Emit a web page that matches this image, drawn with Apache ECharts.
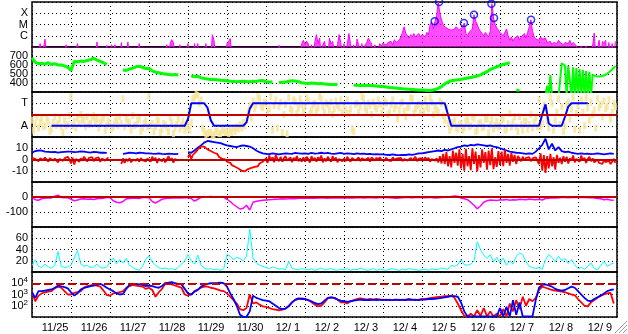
<!DOCTYPE html>
<html><head><meta charset="utf-8">
<script src="https://cdn.jsdelivr.net/npm/echarts@6/dist/echarts.min.js"></script>
<style>html,body{margin:0;padding:0;background:#fff}#c{width:628px;height:334px}</style>
</head><body><div id="c"></div>
<script>
// ---- tick labels ----
const dayLabels = ['11/25','11/26','11/27','11/28','11/29','11/30','12/ 1','12/ 2','12/ 3','12/ 4','12/ 5','12/ 6','12/ 7','12/ 8','12/ 9'];
const xrayClassLabels = {1:'C', 2:'M', 3:'X'};
const sectorLabels = {1:'A', 3:'T'};

// ---- X-ray flux, log10(W/m2)+7, hourly (below 0 = under axis) ----
const xray = [
-1,-1,-1,-1,-1,0.3,-1,-1,0.7,-1,-1,-1,-1,-1,-1,-1,-1,-1,-1,-1,-1,0.2,-1,-1,
-1,-1,-1,-1,0.3,-1,-1,-1,-1,-1,-1,-1,-1,-1,-1,-1,0.45,-1,-1,-1,-1,-1,0.15,-1,
-1,0.2,-1,0.2,-1,-1,-1,0.4,-1,-1,-1,0.45,-1,-1,-1,-1,-1,-1,0.3,-1,-1,-1,-1,-1,
-1,-1,-1,-1,-1,-1,-1,-1,-1,-1,-1,0.2,-1,0.3,0.65,0.4,-1,-1,-1,0.2,-1,-1,-1,-1,
0.3,-1,-1,-1,0.3,-1,0.3,-1,-1,-1,-1,0.3,-1,-1,-1,1.1,0.6,-1,-1,-1,-1,-1,-1,-1,
0.3,0.5,0.75,-1,-1,-1,-1,-1,-1,-1,-1,-1,-1,-1,-1,-1,-1,-1,-1,-1,-1,-1,-1,-1,
-1,-1,-1,-1,-1,-1,-1,-1,0.15,-1,-1,-1,-1,-1,-1,-1,-1,-1,-1,-1,-1,-1,0.3,0.6,
0.2,0.5,0.3,-1,0.2,-1,0.4,1.1,0.3,0.8,-1,0.2,0.5,0.5,-1,0.8,0.3,0.5,0.6,-1,0.2,1.1,0.4,-1,
0.3,-1,0.2,1.2,0.3,-1,0.2,-1,0.7,0.2,-1,0.3,-1,0.2,0.4,0.8,0.5,0.3,-1,0.2,-1,-1,0.3,0.1,
0.35,0.2,0.15,0.4,0.3,0.5,0.2,0.65,0.4,0.3,0.6,0.9,1.3,1.8,1.2,1.0,0.8,1.1,0.9,1.2,0.9,0.8,1.2,0.9,
1.1,1.2,0.9,1.3,1.1,2.0,2.2,1.6,2.28,2.8,4.0,3.0,2.4,2.0,1.8,1.7,1.6,1.5,1.5,1.4,1.6,1.8,1.7,1.5,
1.6,1.8,2.13,1.2,1.0,1.3,1.4,1.6,2.87,2.3,2.0,1.6,1.4,1.2,1.0,1.3,1.1,0.9,1.4,3.85,2.58,2.0,1.7,1.5,
1.3,1.2,1.0,0.9,1.6,1.0,0.6,0.9,0.5,0.8,0.7,1.0,0.6,0.9,1.0,1.2,0.8,1.3,1.8,2.43,1.4,0.9,0.7,0.8,
0.6,0.9,0.7,0.6,0.8,0.4,0.3,0.5,0.2,0.4,0.5,0.3,0.6,0.4,0.3,0.2,0.4,0.5,0.3,0.6,0.2,0.4,0.5,0.1,
-1,-1,0.1,-1,-1,0.1,-1,-1,-1,-1,1.25,-1,-1,0.6,-1,0.5,0.3,0.6,-1,0.4,-1,0.3,-1,0.5
];
const flareHours  = [247.8, 250.5, 265.8, 272.0, 282.7, 284.3, 307.1];
const flareLevels = [2.28, 4.0, 2.13, 2.87, 3.85, 2.58, 2.43];

// ---- solar wind speed km/s, 2-hourly to 12/7 ----
const speed = [
680,630,615,620,610,625,605,615,600,600,590,575,
540,640,635,645,640,650,660,675,655,640,625,605,
null,null,null,null,545,540,555,565,580,585,575,560,
560,535,520,515,505,500,495,490,495,490,null,null,
null,480,470,475,460,450,445,440,438,435,430,428,
425,420,418,415,418,420,416,414,420,418,425,428,
415,412,410,null,408,405,410,420,425,422,415,402,
398,395,400,396,392,394,390,386,383,384,382,null,
null,null,null,375,374,372,374,373,372,370,366,362,
360,355,350,348,345,340,335,332,330,328,326,322,
322,320,318,320,328,340,360,390,410,425,430,435,
440,448,455,460,470,478,490,510,525,550,565,580,
595,605,615,625,null,322,318,null,320,null,null,null
];
// hourly speed from 12/8 00h (hour 312) with dropouts
const speedLate = [
null,null,null,null,250,370,250,490,250,250,250,250,
250,250,620,600,595,250,590,585,250,575,250,565,
250,555,250,545,250,535,250,525,250,490,482,476,
472,472,474,478,484,492,505,520,535,550,570,590
];

// ---- sector (T/A): 1 = A, 3 = T; scatter samples and sector line, 2-hourly ----
const sectorA = [
1.5,1.2,0.8,1.6,1.0,1.4,0.7,1.8,1.2,0.9,1.5,1.1,
3.6,1.4,1.7,2.0,1.5,1.8,1.2,1.9,1.6,1.3,1.7,1.0,
1.2,0.9,1.5,1.8,3.4,1.6,1.3,1.9,1.1,1.6,0.8,1.4,
3.6,1.2,0.9,1.4,0.7,1.1,0.5,1.3,0.8,1.6,1.0,0.6,
1.0,1.3,3.5,3.7,3.3,0.5,0.3,0.4,0.2,0.5,0.3,0.6,
0.5,0.6,0.8,0.9,1.1,1.3,1.5,2.8,3.2,2.9,3.4,2.6,
3.0,2.5,0.6,3.3,2.7,0.4,2.9,3.5,2.4,3.1,2.6,2.9,
2.7,3.2,2.4,3.0,2.6,3.4,2.2,2.9,3.1,2.5,2.8,3.3,
2.9,3.3,2.5,0.5,3.0,2.7,3.4,2.3,2.8,3.1,2.5,2.9,
2.6,3.0,2.2,3.3,2.8,2.4,3.1,1.8,2.7,3.4,2.5,2.9,
2.9,3.3,2.5,3.1,2.7,2.2,3.0,1.5,1.2,0.9,1.4,0.7,
1.2,0.8,1.5,1.0,1.7,0.6,1.3,0.9,1.6,1.1,0.7,1.4,
1.0,1.6,0.7,2.1,1.3,0.9,1.8,0.6,1.4,1.1,0.8,1.7,
3.3,1.2,2.6,0.8,3.0,1.5,3.4,2.7,1.0,3.1,2.5,0.7,
2.8,3.3,1.0,2.6,3.1,2.4,3.4,2.9,3.2,2.7,1.6,3.0
];
const sectorB = [
0.6,1.8,1.3,0.9,1.7,0.5,1.3,1.0,1.6,0.4,1.0,1.9,
1.0,0.8,1.2,1.5,0.9,1.1,1.7,1.4,0.8,1.5,0.6,1.4,
0.7,1.4,1.0,1.2,0.9,1.3,0.6,1.0,1.5,0.5,1.2,0.9,
1.0,0.5,1.5,0.4,1.2,0.8,1.7,0.3,1.1,0.7,1.4,0.9,
0.6,3.4,3.8,3.0,0.8,0.2,0.4,0.1,0.5,0.3,0.6,0.4,
0.3,0.4,0.5,0.7,0.8,1.0,2.2,1.7,2.5,3.6,2.7,3.1,
2.2,3.6,2.8,0.8,3.1,2.0,0.3,2.5,3.3,2.1,3.4,2.3,
3.5,2.1,2.9,2.3,3.6,2.7,3.0,2.4,2.0,3.2,2.6,2.2,
2.4,2.1,0.7,2.9,2.2,3.6,2.6,3.0,2.0,2.7,3.3,2.1,
3.2,2.0,2.9,2.5,1.6,3.0,2.3,2.6,3.5,2.1,2.8,2.2,
2.3,2.7,3.5,2.0,2.4,3.2,1.9,2.6,0.6,1.3,0.8,1.1,
0.6,1.4,0.9,1.8,0.5,1.2,0.8,1.6,0.4,1.5,1.0,0.9,
1.5,0.6,1.2,0.9,1.8,0.5,1.1,1.4,0.7,2.0,1.3,0.9,
0.9,2.8,1.4,3.5,0.6,2.2,1.1,0.5,2.9,1.6,3.5,2.1,
0.6,2.2,3.5,1.5,2.0,0.8,2.6,1.8,2.5,3.3,2.2,2.7
];
const sectorLine = [
null,null,null,null,null,null,1,1,1,1,1,1,
1,1,1,1,1,1,1,1,1,1,1,1,
1,1,1,1,1,1,1,1,1,1,1,1,
1,1,1,1,1,1,1,1,1,1,1,1,
1.6,3,3,3,3,3,2.6,1.5,1,1,1,1,
1,1,1,1,1,1,1.3,2.5,3,3,3,3,
3,3,3,3,3,3,3,3,3,3,3,3,
3,3,3,3,3,3,3,3,3,3,3,3,
3,3,3,3,3,3,3,3,3,3,3,3,
3,3,3,3,3,3,3,3,3,3,3,3,
3,3,3,3,3,3,3,3,2.0,1,1,1,
1,1,1,1,1,1,1,1,1,1,1,1,
1,1,1,1,1,1,1,1,1,1,1,1,
1,2.0,2.9,1.2,1,1,1,1,1.8,2.7,3,3,
3,3,3,3,null,null,null,null,null,null,null,null
];

// ---- IMF Bt (2-hourly) and Bz (hourly), nT ----
const bt = [
6.0,7.5,8.0,7.8,7.0,6.8,6.5,6.8,6.2,6.5,6.8,7.0,
7.0,6.5,6.8,7.2,7.0,6.5,6.2,6.8,6.5,6.0,6.2,5.8,
null,null,null,null,5.0,5.5,6.0,5.8,5.5,6.0,5.8,5.5,
5.5,5.2,5.0,5.5,5.0,4.8,5.2,5.0,4.8,5.0,null,null,
6.5,6.0,8.0,10.5,12.5,15.0,16.5,16.0,15.5,15.0,14.5,13.5,
12.5,12.0,11.5,11.0,12.0,12.5,12.0,11.5,10.0,8.0,6.5,5.5,
5.0,4.8,5.5,5.0,4.5,5.0,5.5,5.2,5.0,5.8,5.5,5.2,
5.5,5.0,5.8,5.2,5.5,6.0,5.5,5.8,5.2,5.0,5.5,5.8,
5.0,5.5,5.2,4.8,5.5,5.0,5.2,4.8,5.0,4.5,4.8,4.5,
4.5,4.2,4.0,4.5,4.0,3.8,4.2,4.0,4.5,4.2,4.8,5.5,
5.5,6.0,6.5,7.0,7.5,8.0,7.5,8.5,8.0,9.0,10.0,11.0,
11.5,12.5,12.0,13.0,12.5,13.5,13.0,12.5,12.0,12.5,11.5,11.0,
10.0,9.0,8.0,7.0,6.5,6.0,5.8,5.5,5.0,5.5,5.0,7.0,
10.0,13.0,18.5,9.0,14.0,8.0,11.0,7.5,6.5,7.0,6.0,5.5,
5.0,5.5,5.0,5.2,4.8,5.0,5.5,5.0,4.5,5.0,5.5,5.0
];
const bz = [
1.5,3.0,0.5,2.0,-1.5,1.0,2.5,-0.5,1.8,0.2,-2.0,1.2,2.2,-1.0,0.8,1.5,-2.5,0.5,2.0,-1.2,1.0,-0.5,2.5,0.0,
-3.5,1.5,-4.5,0.5,2.0,-2.0,1.0,-1.0,2.5,0.5,-1.8,1.5,0.0,2.2,-1.5,1.0,-0.5,2.0,-2.2,0.8,1.5,-1.0,0.5,1.8,
null,null,null,null,null,null,null,-4.0,1.0,-3.0,0.5,-1.5,1.2,-2.5,0.0,1.5,-1.0,0.8,-2.0,1.3,-0.5,0.5,-1.8,1.0,
0.5,-2.0,2.5,-1.0,1.5,-3.0,0.8,2.0,-1.5,1.0,-2.5,0.0,3.0,-1.0,1.2,-2.8,0.5,2.2,-1.0,null,null,null,null,null,
2.0,5.0,0.5,4.0,3.0,7.0,9.0,10.0,11.5,12.0,11.5,10.5,9.0,10.0,7.5,8.0,6.0,4.5,5.0,2.5,3.0,0.5,-1.0,0.0,
-2.0,-3.5,-3.0,-5.0,-6.0,-6.5,-7.5,-8.0,-9.5,-10.0,-9.0,-10.5,-9.5,-8.5,-9.0,-7.5,-8.0,-6.5,-5.0,-6.0,-3.5,-4.0,-2.0,-2.5,
1.0,-3.0,3.5,-1.0,2.0,-2.5,4.0,0.5,-1.5,2.5,-2.0,1.0,3.0,-1.0,0.0,2.0,-2.5,1.5,-0.5,3.0,-1.5,1.0,-2.0,2.0,
-2.0,2.5,0.5,-2.8,3.0,-1.0,1.5,-2.0,2.0,-0.5,3.5,-2.5,1.0,-1.5,2.5,0.0,-2.0,3.0,-1.0,1.8,-2.5,0.5,2.0,-1.5,
1.0,-1.5,2.5,0.0,-2.0,1.5,3.0,-1.0,0.5,2.0,-1.5,1.0,2.5,-0.5,0.0,1.5,-2.0,2.0,0.5,-1.0,1.5,-0.5,2.0,0.0,
0.5,-1.0,1.5,-0.5,1.0,-1.5,2.0,0.0,-1.0,1.0,-0.5,1.5,-1.5,0.5,2.0,-1.0,0.5,1.5,-1.0,0.0,2.5,-1.5,1.0,-0.5,
1.0,-1.0,2.0,-0.5,1.5,-2.0,0.5,2.0,-1.0,1.0,-2.5,3.0,-3.5,5.0,-4.0,6.5,-6.0,3.0,-7.0,8.0,-3.0,6.0,-5.5,9.0,
-8.0,5.0,-10.0,9.5,-6.0,3.0,-9.5,10.0,-4.0,7.0,-10.5,4.0,-7.0,9.0,-3.0,6.5,-9.0,8.0,-5.0,10.0,-8.5,2.0,-6.5,7.5,
-5.0,7.0,-6.0,8.5,-3.0,5.0,-5.5,6.0,-2.0,4.0,-4.0,3.0,1.0,-1.5,2.5,-1.0,1.5,0.0,2.0,-1.5,1.0,-0.5,2.0,0.5,
-4.0,5.5,-10.0,4.0,-12.0,3.0,-8.0,5.0,-6.0,2.0,-9.0,4.0,-3.0,1.5,-4.0,3.0,-2.0,2.5,-3.5,1.0,-1.0,3.5,-2.5,0.5,
2.0,-2.0,3.5,-1.0,1.5,-3.0,0.5,2.5,-1.5,1.0,-2.5,-1.0,0.0,-3.0,-1.5,-4.0,-0.5,-2.5,-3.5,-1.0,-4.0,-2.0,0.5,-3.0
];

// ---- Dst nT, 2-hourly ----
const dst = [
-3,-18,-22,-10,-8,-5,-6,5,12,-3,-5,-4,
-15,-25,-20,-13,-12,-15,-14,-16,-12,-10,-8,-4,
-3,-25,-35,-38,-30,-12,-10,-9,-8,-10,-4,-3,
-5,-30,-40,-28,-15,-10,-8,-6,-5,-6,-7,-5,
-3,-10,-28,-15,-3,0,2,3,2,1,0,-2,
-15,-30,-50,-65,-80,-75,-55,-87,-35,-28,-25,-22,
-20,-18,-17,-15,-14,-12,-13,-12,-10,-11,-9,-8,
-9,-8,-7,-8,-7,-6,-7,-8,-6,-7,-5,-6,
-6,-5,-7,-6,-5,-4,-6,-5,-4,-5,-6,-4,
-3,-4,-5,-7,-8,-6,-5,-4,-3,-5,-4,-3,
-4,-5,-3,-4,-6,-5,-3,-2,0,3,6,5,
-8,-12,-18,-35,-55,-78,-60,-35,-25,-20,-22,-24,
-18,-20,-16,-22,-18,-20,-15,-17,-19,-14,-16,-18,
-15,-20,-10,-8,-6,-7,-5,-4,-3,-5,-4,-2,
-3,-4,-2,-5,-3,-6,-10,-12,-18,-15,-20,-22
];

// ---- proton density /cc, 2-hourly ----
const density = [
12,22,10,8,14,9,7,12,36,10,8,9,
12,25,38,14,10,12,8,9,14,8,7,9,
18,25,14,22,16,24,12,8,5,3,10,22,
29,18,12,8,6,7,5,6,4,8,14,20,
31,20,14,30,12,7,5,6,4,5,3,6,
31,28,22,26,24,20,28,76,25,16,12,10,
8,6,9,7,5,6,4,19,6,5,4,6,
5,4,6,3,5,7,4,5,6,4,3,5,
4,6,3,5,4,7,5,3,4,6,3,5,
4,3,5,6,4,3,5,4,6,5,4,3,
4,5,3,6,4,5,7,6,5,12,10,13,
22,13,12,14,20,54,40,30,24,31,18,26,
16,25,12,20,14,28,34,31,18,10,8,6,
8,5,22,31,26,18,28,20,24,15,22,13,
6,8,5,10,16,6,4,12,19,10,14,16
];

// ---- electron flux log10, 2-hourly, two satellites ----
const elecBlue = [
3.2,2.7,3.3,3.3,3.35,3.4,3.45,3.6,3.78,3.72,3.65,3.55,
3.2,2.9,3.1,3.45,3.6,3.65,3.75,3.8,3.85,3.95,3.8,3.6,
3.45,3.3,3.1,3.0,3.05,3.5,3.85,3.95,3.95,3.9,3.85,3.75,
3.8,3.75,3.65,3.6,3.75,4.02,4.05,4.1,4.0,3.95,3.9,3.5,
3.1,3.0,3.25,3.4,3.7,3.85,3.95,4.0,4.02,4.03,4.05,4.0,
3.7,3.1,2.6,2.0,1.2,1.02,1.02,1.5,2.9,2.7,2.6,2.5,
2.45,2.4,2.2,2.0,1.8,1.7,1.75,1.95,2.3,2.55,2.65,2.6,
2.6,2.5,2.4,2.25,2.15,2.2,2.45,2.7,2.75,2.7,2.55,2.45,
2.4,2.35,2.4,2.45,2.5,2.55,2.5,2.52,2.5,2.55,2.5,2.55,
2.5,2.55,2.5,2.52,2.55,2.5,2.55,2.5,2.55,2.52,2.55,2.5,
2.55,2.55,2.6,2.6,2.62,2.65,2.7,2.75,2.8,2.85,2.85,2.8,
2.3,1.5,1.05,1.05,1.05,1.05,1.05,1.05,1.05,1.05,1.05,1.05,
1.8,1.05,1.9,1.05,2.5,1.2,2.3,1.05,1.05,1.05,1.05,2.5,
3.6,3.85,3.9,3.8,3.7,3.5,3.4,3.35,3.4,3.55,3.7,3.6,
3.3,3.0,2.7,2.45,2.4,2.6,2.75,2.9,3.1,3.3,3.4,3.45
];
const elecRed = [
3.2,2.4,2.9,3.1,3.2,3.25,3.3,3.55,3.7,3.6,3.3,3.0,
3.0,3.15,3.2,3.3,3.6,3.75,3.82,3.85,3.78,3.7,3.35,2.95,
2.9,3.1,3.15,3.2,3.3,3.6,3.75,3.85,3.8,3.75,3.7,3.5,
3.6,3.4,2.8,3.2,3.5,3.95,4.0,3.9,3.8,3.7,3.6,3.0,
2.9,3.0,3.3,3.45,3.6,3.7,3.7,3.6,3.55,3.45,3.35,3.3,
3.1,2.8,2.5,2.2,1.7,1.6,1.8,3.0,2.2,2.3,2.1,1.95,
1.9,1.8,1.7,1.65,1.6,1.65,1.75,2.0,2.3,2.5,2.6,2.65,
2.6,2.5,2.3,2.1,1.95,2.0,2.3,2.65,2.75,2.7,2.55,2.3,
2.3,2.2,2.4,2.5,2.6,2.65,2.6,2.55,2.6,2.55,2.6,2.55,
2.55,2.5,2.55,2.5,2.52,2.55,2.5,2.55,2.6,2.55,2.5,2.55,
2.6,2.6,2.65,2.7,2.75,2.78,2.8,2.85,2.85,2.9,2.7,2.2,
1.6,1.1,1.05,1.3,1.05,1.6,1.1,1.8,1.05,1.5,1.05,1.3,
1.05,1.7,1.05,2.2,1.5,2.5,1.7,2.8,2.0,2.6,2.4,2.7,
3.4,3.7,3.6,3.5,3.4,3.35,3.3,3.25,3.2,3.1,3.0,2.95,
2.6,2.3,2.0,1.95,2.3,2.5,2.7,2.9,3.0,3.1,3.15,2.2
];

// ---------- chart ----------
const FONT = '"Liberation Sans", Arial, sans-serif';
const DOT = [1, 3];
const tops = [2, 47, 92, 137, 182, 227, 272];
const p1 = a => a.map((v, i) => [i, v]);
const p2 = a => a.map((v, i) => [i * 2, v]);
const lbl = {color: '#000', fontSize: 11, fontFamily: FONT};

function xAx(i) {
  return {
    gridIndex: i, type: 'value', min: 0, max: 360, interval: 24,
    axisLine: {show: false}, axisTick: {show: false},
    splitLine: {show: true, lineStyle: {color: '#000', width: 1, type: DOT}},
    axisLabel: i === 6 ? Object.assign({
      show: true, customValues: dayLabels.map((_, d) => d * 24 + 6),
      formatter: v => dayLabels[Math.floor(v / 24)] || '', align: 'left', margin: 5
    }, lbl) : {show: false}
  };
}
function yAx(i, min, max, interval, fmt, extraLabel) {
  return {
    gridIndex: i, type: 'value', min, max, interval,
    axisLine: {show: false}, axisTick: {show: false},
    splitLine: {show: true, lineStyle: {color: '#000', width: 1, type: DOT}},
    axisLabel: Object.assign({show: true, formatter: fmt, margin: 4}, lbl, extraLabel || {})
  };
}
const mark = (v, type) => ({
  silent: true, symbol: 'none', label: {show: false}, animation: false,
  lineStyle: {color: '#c00000', width: 2, type: type || 'solid'}, data: [{yAxis: v}]
});
const lineS = (ix, data, color, width, extra) => Object.assign({
  type: 'line', xAxisIndex: ix, yAxisIndex: ix, data, showSymbol: false, symbol: 'none',
  lineStyle: {color, width}, itemStyle: {color}, clip: true, silent: true
}, extra || {});

const option = {
  animation: false,
  backgroundColor: '#fff',
  textStyle: {fontFamily: FONT},
  grid: tops.map(t => ({left: 32, right: 11, top: t, height: 45, show: true, borderColor: '#000', borderWidth: 1.5})),
  xAxis: tops.map((_, i) => xAx(i)),
  yAxis: [
    yAx(0, 0, 4, 1, v => xrayClassLabels[v] || ''),
    yAx(1, 300, 800, 100, v => (v > 300 && v < 800) ? String(v) : ''),
    yAx(2, 0, 4, 1, v => sectorLabels[v] || ''),
    yAx(3, -20, 20, 10, v => (v > -20 && v < 20) ? String(v) : ''),
    yAx(4, -200, 100, 100, v => (v === 0 || v === -100) ? String(v) : ''),
    yAx(5, 0, 80, 20, v => (v > 0 && v < 80) ? String(v) : ''),
    yAx(6, 1, 5, 1, v => (v >= 2 && v <= 4) ? '{b|10}{s|' + v + '}' : '', {
      rich: {
        b: {fontSize: 11, fontFamily: FONT, color: '#000', lineHeight: 14},
        s: {fontSize: 8, fontFamily: FONT, color: '#000', lineHeight: 8, verticalAlign: 'top'}
      }
    })
  ],
  series: [
    lineS(0, p1(xray), '#ff00ff', 1, {areaStyle: {color: '#ff00ff', opacity: 0.7}}),
    {type: 'scatter', xAxisIndex: 0, yAxisIndex: 0, silent: true, clip: false, z: 6,
     data: flareHours.map((h, i) => [h, flareLevels[i]]), symbol: 'circle', symbolSize: 7,
     itemStyle: {color: 'rgba(0,0,0,0)', borderColor: '#0000ff', borderWidth: 1.5}},
    lineS(1, p2(speed), '#00ff00', 3),
    lineS(1, speedLate.map((v, i) => [312 + i, v]), '#00ff00', 2),
    {type: 'scatter', xAxisIndex: 2, yAxisIndex: 2, silent: true,
     data: p2(sectorA).concat(sectorB.map((v, i) => [i * 2 + 1, v])),
     symbol: 'rect', symbolSize: [3, 7], itemStyle: {color: '#f6e395'}},
    lineS(2, p2(sectorLine), '#0000ff', 2, {markLine: mark(2), z: 3}),
    lineS(3, p2(bt), '#0000ff', 1.8),
    lineS(3, p1(bz), '#ff0000', 1.8, {markLine: mark(0), z: 3}),
    lineS(4, p2(dst), '#ff00ff', 1.5, {markLine: mark(0)}),
    lineS(5, p2(density), '#00ffff', 1),
    lineS(6, p2(elecRed), '#ff0000', 1.8),
    lineS(6, p2(elecBlue), '#0000ff', 1.8, {markLine: mark(4, [8, 4]), z: 3})
  ],
  graphic: [
    {type: 'line', silent: true, shape: {x1: 615, y1: 333, x2: 627, y2: 321}, style: {stroke: '#a0a0a0', lineWidth: 1}},
    {type: 'line', silent: true, shape: {x1: 619, y1: 333, x2: 627, y2: 325}, style: {stroke: '#a0a0a0', lineWidth: 1}},
    {type: 'line', silent: true, shape: {x1: 623, y1: 333, x2: 627, y2: 329}, style: {stroke: '#a0a0a0', lineWidth: 1}}
  ]
};
const chart = echarts.init(document.getElementById('c'), null, {renderer: 'canvas'});
chart.setOption(option);
</script></body></html>
